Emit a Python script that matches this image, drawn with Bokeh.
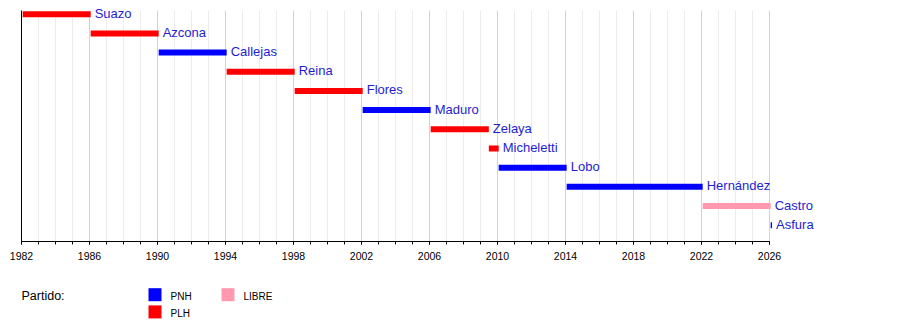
from bokeh.plotting import figure
from bokeh.models import ColumnDataSource, Range1d, FixedTicker
from bokeh.embed import file_html
from bokeh.resources import INLINE
from bokeh.core.properties import value

# ---- data ----
presidents = ["Suazo", "Azcona", "Callejas", "Reina", "Flores", "Maduro",
              "Zelaya", "Micheletti", "Lobo", "Hernández", "Castro", "Asfura"]
term_start = [1982.07, 1986.07, 1990.07, 1994.07, 1998.07, 2002.07,
              2006.07, 2009.49, 2010.07, 2014.07, 2022.07, 2026.07]
term_end = [1986.07, 1990.07, 1994.07, 1998.07, 2002.07, 2006.07,
            2009.49, 2010.07, 2014.07, 2022.07, 2026.07, 2026.15]
party = ["PLH", "PLH", "PNH", "PLH", "PLH", "PNH",
         "PLH", "PLH", "PNH", "PNH", "LIBRE", "PNH"]
party_names = ["PNH", "PLH", "LIBRE"]
party_colors = ["#0000ff", "#ff0000", "#ff99b0"]
axis_start, axis_end = 1982, 2026
major_step = 4
legend_title = "Partido:"

FONT = "Liberation Sans"
LABEL_COLOR = "#1e1ed0"

# ---- layout constants ----
W, H = 900, 321
left_px, top_px, bottom_px = 21, 10, 80
frame_w = 757
px_per_year = 748.0 / (axis_end - axis_start)
x_end = axis_start + frame_w / px_per_year
frame_h = H - top_px - bottom_px
row_px = 19.18
first_off = 3.7
y_top = -first_off / row_px
y_bottom = y_top + frame_h / row_px


def px_to_x(px):
    return axis_start + (px - left_px) / px_per_year


def px_to_y(py):
    return y_top + (py - top_px) / row_px


color_of = dict(zip(party_names, party_colors))
src = ColumnDataSource(dict(
    row=list(range(len(presidents))),
    start=term_start,
    end=term_end,
    name=presidents,
    color=[color_of[p_] for p_ in party],
))

p = figure(width=W, height=H,
           x_range=Range1d(axis_start, x_end),
           y_range=Range1d(y_bottom, y_top),
           output_backend="svg", toolbar_location=None,
           min_border_left=left_px, min_border_right=W - left_px - frame_w,
           min_border_top=top_px, min_border_bottom=bottom_px)
p.outline_line_color = None
p.background_fill_color = "white"
p.border_fill_color = "white"

p.hbar(y="row", left="start", right="end", height=6 / row_px,
       fill_color="color", line_color=None, source=src)

p.text(x="end", y="row", text="name", source=src, x_offset=4, y_offset=-1,
       text_baseline="middle", text_align="left", text_font=value(FONT),
       text_font_size="13px", text_color=LABEL_COLOR, level="overlay")

xa = p.xaxis[0]
xa.ticker = FixedTicker(ticks=list(range(axis_start, axis_end + 1, major_step)),
                        minor_ticks=list(range(axis_start, axis_end + 1)))
xa.bounds = (axis_start, axis_end)
xa.major_label_text_font = FONT
xa.major_label_text_font_size = "10.5px"
xa.major_label_text_color = "black"
xa.major_label_standoff = 7
xa.major_tick_out = 3
xa.major_tick_in = 0
xa.minor_tick_out = 3
xa.minor_tick_in = 0
xa.axis_line_color = "black"
xa.major_tick_line_color = "black"
xa.minor_tick_line_color = "black"

ya = p.yaxis[0]
ya.major_tick_line_color = None
ya.minor_tick_line_color = None
ya.major_label_text_font_size = "0px"
ya.major_label_standoff = 0
ya.axis_line_color = "black"

p.xgrid.grid_line_color = "#d2d2d2"
p.xgrid.minor_grid_line_color = "#ececec"
p.xgrid.bounds = (axis_start, axis_end)
p.ygrid.visible = False

# ---- legend below the axis ----
lx0, col_w, ly0, row_h, sw = 148, 73, 294.2, 17.2, 13
n_rows = 2
sx_px = [lx0 + (i // n_rows) * col_w for i in range(len(party_names))]
sy_px = [ly0 + (i % n_rows) * row_h for i in range(len(party_names))]
lsrc = ColumnDataSource(dict(
    x=[px_to_x(v + sw / 2) for v in sx_px],
    y=[px_to_y(v) for v in sy_px],
    tx=[px_to_x(v + sw + 9) for v in sx_px],
    ty=[px_to_y(v + 1.5) for v in sy_px],
    name=party_names,
    color=party_colors))
p.rect(x="x", y="y", width=sw, height=sw, width_units="screen", height_units="screen",
       fill_color="color", line_color=None, source=lsrc, level="overlay")
p.text(x="tx", y="ty", text="name", source=lsrc, text_baseline="middle",
       text_font=value(FONT), text_font_size="10px", text_color="black",
       level="overlay")
p.text(x=[px_to_x(left_px)], y=[px_to_y(295)], text=[legend_title],
       text_baseline="middle", text_font=value(FONT), text_font_size="12.5px",
       text_color="black", level="overlay")

open("out.html", "w").write(file_html(p, INLINE))
